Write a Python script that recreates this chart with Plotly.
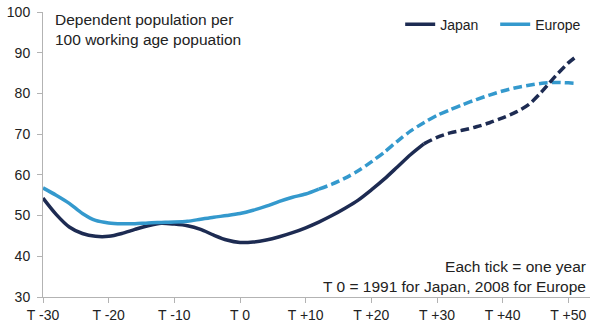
import plotly.graph_objects as go

# Dependency ratio (dependents per 100 working-age people), by years from T 0
japan_hist_t = [-30, -28, -26, -24, -22, -20, -18, -16, -14, -12, -10, -8, -6, -4, -2,
                0, 2, 4, 6, 8, 10, 12, 14, 16, 18, 20, 22, 24, 26, 28]
japan_hist_v = [54.3, 50.3, 47.2, 45.6, 44.9, 44.9, 45.6, 46.6, 47.5, 48.1, 47.9, 47.5, 46.6, 45.2, 44.0,
                43.4, 43.5, 44.0, 44.8, 45.8, 47.0, 48.4, 50.0, 51.8, 53.8, 56.3, 59.0, 62.0, 65.0, 67.6]

japan_proj_t = [28, 30, 32, 34, 36, 38, 40, 42, 44, 46, 48, 50, 51]
japan_proj_v = [67.6, 69.2, 70.3, 71.0, 71.8, 72.8, 74.0, 75.4, 77.3, 80.5, 84.2, 87.5, 88.8]

europe_hist_t = [-30, -28, -26, -24, -22, -20, -18, -16, -14, -12, -10, -8, -6, -4, -2,
                 0, 2, 4, 6, 8, 10, 12]
europe_hist_v = [56.8, 55.0, 53.0, 50.5, 48.8, 48.2, 48.0, 48.0, 48.2, 48.3, 48.4, 48.6, 49.1, 49.6, 50.0,
                 50.5, 51.3, 52.3, 53.5, 54.5, 55.3, 56.5]

europe_proj_t = [12, 14, 16, 18, 20, 22, 24, 26, 28, 30, 32, 34, 36, 38, 40, 42, 44, 46, 48, 50, 51]
europe_proj_v = [56.5, 57.7, 59.2, 61.0, 63.2, 65.6, 68.3, 70.8, 72.8, 74.6, 76.0, 77.3, 78.5, 79.6,
                 80.6, 81.4, 82.0, 82.5, 82.7, 82.6, 82.5]

x_tickvals = [-30, -20, -10, 0, 10, 20, 30, 40, 50]
x_ticktext = ["T -30", "T -20", "T -10", "T 0", "T +10", "T +20", "T +30", "T +40", "T +50"]
y_tickvals = [30, 40, 50, 60, 70, 80, 90, 100]

JAPAN = "#1d2b52"
EUROPE = "#3499cd"
FONT = "Liberation Sans, Arial, sans-serif"
LW = 3.5
DASH = "9px,4px"

fig = go.Figure()
fig.add_trace(go.Scatter(x=japan_hist_t, y=japan_hist_v, mode="lines", name="Japan",
                         line=dict(color=JAPAN, width=LW, shape="spline", smoothing=0.8)))
fig.add_trace(go.Scatter(x=europe_hist_t, y=europe_hist_v, mode="lines", name="Europe",
                         line=dict(color=EUROPE, width=LW, shape="spline", smoothing=0.8)))
fig.add_trace(go.Scatter(x=europe_proj_t, y=europe_proj_v, mode="lines", showlegend=False,
                         line=dict(color=EUROPE, width=LW, dash=DASH, shape="spline", smoothing=0.8)))
fig.add_trace(go.Scatter(x=japan_proj_t, y=japan_proj_v, mode="lines", showlegend=False,
                         line=dict(color=JAPAN, width=LW, dash=DASH, shape="spline", smoothing=0.8)))

axis_common = dict(showgrid=False, zeroline=False, showline=True, linecolor="#b3b3b3", linewidth=1,
                   ticks="outside", ticklen=5, tickcolor="#b3b3b3", tickwidth=1, automargin=False,
                   tickfont=dict(family=FONT, size=14, color="#222222"))

fig.update_xaxes(range=[-30, 53.3], tickmode="array", tickvals=x_tickvals, ticktext=x_ticktext,
                 **axis_common)
fig.update_yaxes(range=[30, 100], tickmode="array", tickvals=y_tickvals, ticklabelstandoff=4,
                 **axis_common)

fig.add_annotation(xref="paper", yref="paper", x=0.018, y=1, xanchor="left", yanchor="top",
                   yshift=3, align="left", showarrow=False,
                   text="Dependent population per<br>100 working age popuation",
                   font=dict(family=FONT, size=15.5, color="#222222"))
fig.add_annotation(xref="paper", yref="paper", x=0.997, y=0, xanchor="right", yanchor="bottom",
                   align="right", showarrow=False,
                   text="Each tick = one year<br>T 0 = 1991 for Japan, 2008 for Europe",
                   font=dict(family=FONT, size=15.5, color="#222222"))

fig.update_layout(
    width=600, height=334,
    margin=dict(l=43, r=10, t=12, b=37, autoexpand=False),
    paper_bgcolor="white", plot_bgcolor="white",
    font=dict(family=FONT, size=13, color="#222222"),
    legend=dict(orientation="h", xref="paper", yref="paper", x=0.653, y=1.012,
                xanchor="left", yanchor="top", bgcolor="rgba(0,0,0,0)",
                font=dict(family=FONT, size=14, color="#222222"), itemwidth=30,
                entrywidth=50),
    showlegend=True,
)

fig.write_html("out.html")
